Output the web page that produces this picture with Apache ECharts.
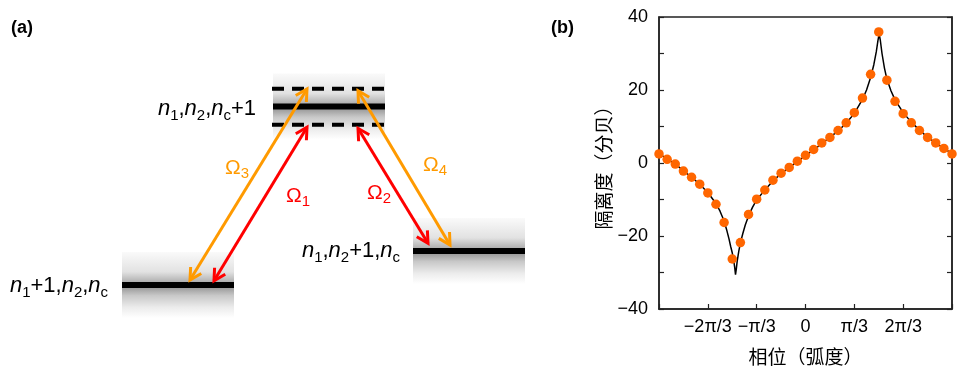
<!DOCTYPE html>
<html>
<head>
<meta charset="utf-8">
<script src="https://cdn.jsdelivr.net/npm/echarts@6/dist/echarts.min.js"></script>
<style>
  html, body { margin: 0; padding: 0; background: #fff; }
  #chart { width: 965px; height: 378px; }
</style>
</head>
<body>
<div id="chart"></div>
<script>
// ---- (a) level diagram, in diagram units (x across, energy up) ----
// solid levels: [xStart, xEnd, energy]
const levelSolid = [[122, 234, 93], [413, 525, 127], [273, 385, 271.5]];
// dashed (dressed) levels around the upper one
const levelDashed = [[272, 385, 289.3], [272, 385, 253.3]];
const levelNames = ['n1+1,n2,nc', 'n1,n2+1,nc', 'n1,n2,nc+1'];
const levelLabelPos = [[59, 92], [351, 127], [207, 269]];

// couplings: [fromX, fromE, toX, toE]
const arrowNames = ['Ω3', 'Ω1', 'Ω2', 'Ω4'];
const arrowEnds = [
  [190, 98, 307, 289],
  [214, 97.3, 307, 250.7],
  [358, 249.7, 428, 134.7],
  [358, 287.3, 450, 133]
];
const arrowLabelPos = [[237, 210], [298, 182], [379, 185], [435, 213]];

// ---- (b) isolation vs phase ----
const phaseDeg = [-180, -170, -160, -150, -140, -130, -120, -110, -100, -90, -80, -70, -60,
  -50, -40, -30, -20, -10, 0, 10, 20, 30, 40, 50, 60, 70, 80, 90, 100, 110, 120, 130, 140,
  150, 160, 170, 180];
const isolationDb = [2.5, 1.0, -0.3, -2.2, -3.9, -5.8, -8.2, -11.3, -16.3, -26.3, -21.8, -14.1,
  -9.9, -7.4, -4.7, -2.8, -1.2, 0.5, 2.1, 3.7, 5.5, 7.0, 8.9, 11.0, 13.8, 17.8, 24.3, 35.9,
  22.7, 16.9, 13.5, 11.0, 8.9, 7.0, 5.5, 4.0, 2.5];
// theory curve
const curvePhase = [-180, -170, -160, -150, -140, -130, -120, -110, -105, -100, -97, -94, -92,
  -90, -88, -87, -86, -85, -84, -82, -80, -77, -74, -70, -65, -60, -50, -40, -30, -20, -10,
  0, 10, 20, 30, 40, 50, 60, 70, 75, 80, 84, 87, 89, 90.5, 92, 94, 97, 100, 105, 110, 120,
  130, 140, 150, 160, 170, 180];
const curveDb = [2.6, 1.1, -0.3, -2.1, -3.9, -5.8, -8.1, -11.1, -13.2, -15.9, -18.2, -20.8,
  -22.8, -24.6, -27.0, -28.6, -30.6, -29.0, -27.0, -24.2, -21.9, -19.3, -17.0, -14.5, -12.1,
  -10.1, -7.4, -4.9, -2.9, -1.2, 0.4, 2.0, 3.6, 5.3, 7.0, 8.8, 10.9, 13.6, 17.4, 20.0, 23.4,
  27.0, 30.5, 33.5, 35.4, 33.5, 30.0, 26.0, 23.0, 19.8, 17.3, 13.8, 11.2, 9.0, 7.1, 5.5,
  4.0, 2.6];
const phaseTicks = { '-120': '−2π/3', '-60': '−π/3', '0': '0', '60': 'π/3', '120': '2π/3' };

const latin = 'Liberation Sans, Arial, sans-serif';
const cjk = 'Noto Sans CJK SC, sans-serif';

const richText = {
  'n1+1,n2,nc': '{i|n}{s|1}{t|+1,}{i|n}{s|2}{t|,}{i|n}{s|c}',
  'n1,n2+1,nc': '{i|n}{s|1}{t|,}{i|n}{s|2}{t|+1,}{i|n}{s|c}',
  'n1,n2,nc+1': '{i|n}{s|1}{t|,}{i|n}{s|2}{t|,}{i|n}{s|c}{t|+1}',
  'Ω1': '{o|Ω}{q|1}', 'Ω2': '{o|Ω}{q|2}', 'Ω3': '{o|Ω}{q|3}', 'Ω4': '{o|Ω}{q|4}'
};
const pumpColor = { 'Ω1': '#ff0000', 'Ω2': '#ff0000', 'Ω3': '#ff9a00', 'Ω4': '#ff9a00' };

const bandFill = new echarts.graphic.LinearGradient(0, 0, 0, 1, [
  { offset: 0, color: '#fafafa' },
  { offset: 0.3, color: '#e2e2e2' },
  { offset: 0.46, color: '#aeaeae' },
  { offset: 0.55, color: '#9e9e9e' },
  { offset: 0.66, color: '#c8c8c8' },
  { offset: 0.84, color: '#ececec' },
  { offset: 1, color: '#ffffff' }
]);

function renderLevel(params, api) {
  const a = api.coord([api.value(0), api.value(2)]);
  const b = api.coord([api.value(1), api.value(2)]);
  return {
    type: 'group',
    children: [
      { type: 'rect', shape: { x: a[0], y: a[1] - 33, width: b[0] - a[0], height: 66 },
        style: { fill: bandFill } },
      { type: 'line', shape: { x1: a[0], y1: a[1], x2: b[0], y2: b[1] },
        style: { stroke: '#000', lineWidth: 6 } }
    ]
  };
}

function renderDashed(params, api) {
  const a = api.coord([api.value(0), api.value(2)]);
  const b = api.coord([api.value(1), api.value(2)]);
  return { type: 'line', shape: { x1: a[0], y1: a[1], x2: b[0], y2: b[1] },
    style: { stroke: '#000', lineWidth: 4, lineDash: [12, 8] } };
}

function renderArrow(params, api) {
  const p = api.coord([api.value(0), api.value(1)]);
  const q = api.coord([api.value(2), api.value(3)]);
  const len = Math.hypot(q[0] - p[0], q[1] - p[1]);
  const ux = (q[0] - p[0]) / len, uy = (q[1] - p[1]) / len;
  const L = 13, c = Math.cos(0.5), s = Math.sin(0.5);
  function head(tip, dx, dy) {
    return [
      [tip[0] + L * (dx * c - dy * s), tip[1] + L * (dx * s + dy * c)],
      tip,
      [tip[0] + L * (dx * c + dy * s), tip[1] + L * (-dx * s + dy * c)]
    ];
  }
  const col = pumpColor[arrowNames[params.dataIndex]];
  const st = { stroke: col, lineWidth: 3, fill: null, lineJoin: 'miter' };
  return {
    type: 'group',
    children: [
      { type: 'line', shape: { x1: p[0], y1: p[1], x2: q[0], y2: q[1] }, style: st },
      { type: 'polyline', shape: { points: head(q, -ux, -uy) }, style: st },
      { type: 'polyline', shape: { points: head(p, ux, uy) }, style: st }
    ]
  };
}

const labelData = levelNames.map((n, i) => ({ name: n, value: levelLabelPos[i] }))
  .concat(arrowNames.map((n, i) => ({
    name: n, value: arrowLabelPos[i], label: { color: pumpColor[n] }
  })));

const chart = echarts.init(document.getElementById('chart'));
chart.setOption({
  animation: false,
  title: [
    { text: '(a)', left: 6, top: 14, textStyle: { fontSize: 18, fontWeight: 'bold', fontFamily: latin, color: '#000' } },
    { text: '(b)', left: 546, top: 14, textStyle: { fontSize: 18, fontWeight: 'bold', fontFamily: latin, color: '#000' } }
  ],
  grid: [
    { left: 0, top: 0, width: 540, height: 378 },
    { left: 659, top: 17, width: 293, height: 292, show: true, borderColor: '#222', borderWidth: 1.5 }
  ],
  xAxis: [
    { gridIndex: 0, type: 'value', min: 0, max: 540, show: false },
    {
      gridIndex: 1, type: 'value', min: -180, max: 180, interval: 60,
      axisLine: { onZero: false, lineStyle: { color: '#222', width: 1.5 } },
      axisTick: { inside: true, length: 5, lineStyle: { color: '#222', width: 1.2 } },
      splitLine: { show: false },
      axisLabel: {
        margin: 9, fontSize: 18, color: '#000', fontFamily: latin,
        formatter: v => phaseTicks[String(v)] || ''
      },
      name: '相位（弧度）', nameLocation: 'middle', nameGap: 38,
      nameTextStyle: { fontSize: 19, fontFamily: cjk, color: '#000' }
    }
  ],
  yAxis: [
    { gridIndex: 0, type: 'value', min: 0, max: 378, show: false },
    {
      gridIndex: 1, type: 'value', min: -40, max: 40, interval: 10, position: 'left',
      axisLine: { show: true, onZero: false, lineStyle: { color: '#222', width: 1.5 } },
      axisTick: { show: true, inside: true, length: 5, lineStyle: { color: '#222', width: 1.2 } },
      splitLine: { show: false },
      axisLabel: {
        margin: 11, fontSize: 18, color: '#000', fontFamily: latin,
        formatter: v => (v % 20 === 0 ? (v < 0 ? '−' + (-v) : String(v)) : '')
      },
      name: '隔离度（分贝）', nameLocation: 'middle', nameGap: 46,
      nameTextStyle: { fontSize: 19, fontFamily: cjk, color: '#000' }
    },
    {
      gridIndex: 1, type: 'value', min: -40, max: 40, interval: 10, position: 'right',
      axisLine: { show: true, onZero: false, lineStyle: { color: '#222', width: 1.5 } },
      axisTick: { show: true, inside: true, length: 5, lineStyle: { color: '#222', width: 1.2 } },
      splitLine: { show: false },
      axisLabel: { show: false }
    }
  ],
  series: [
    { type: 'custom', xAxisIndex: 0, yAxisIndex: 0, renderItem: renderLevel, data: levelSolid, z: 1 },
    { type: 'custom', xAxisIndex: 0, yAxisIndex: 0, renderItem: renderDashed, data: levelDashed, z: 2 },
    { type: 'custom', xAxisIndex: 0, yAxisIndex: 0, renderItem: renderArrow, data: arrowEnds, z: 3 },
    {
      type: 'scatter', xAxisIndex: 0, yAxisIndex: 0, symbolSize: 0, data: labelData, z: 4,
      itemStyle: { opacity: 1 },
      label: {
        show: true, position: 'inside', color: '#000', fontFamily: latin, opacity: 1,
        textBorderWidth: 0,
        formatter: p => richText[p.name],
        rich: {
          i: { fontStyle: 'italic', fontSize: 22, lineHeight: 28, fontFamily: latin },
          t: { fontSize: 22, lineHeight: 28, fontFamily: latin },
          s: { fontSize: 15, lineHeight: 16, verticalAlign: 'bottom', fontFamily: latin },
          o: { fontSize: 21, lineHeight: 26, fontFamily: latin },
          q: { fontSize: 15, lineHeight: 18, verticalAlign: 'bottom', fontFamily: latin }
        }
      }
    },
    {
      type: 'line', xAxisIndex: 1, yAxisIndex: 1, symbol: 'none', z: 5,
      data: curvePhase.map((x, i) => [x, curveDb[i]]),
      lineStyle: { color: '#000', width: 1.5 }
    },
    {
      type: 'scatter', xAxisIndex: 1, yAxisIndex: 1, symbolSize: 9.5, z: 6,
      data: phaseDeg.map((x, i) => [x, isolationDb[i]]),
      itemStyle: { color: '#ff6600', opacity: 1 }
    }
  ]
});
</script>
</body>
</html>
